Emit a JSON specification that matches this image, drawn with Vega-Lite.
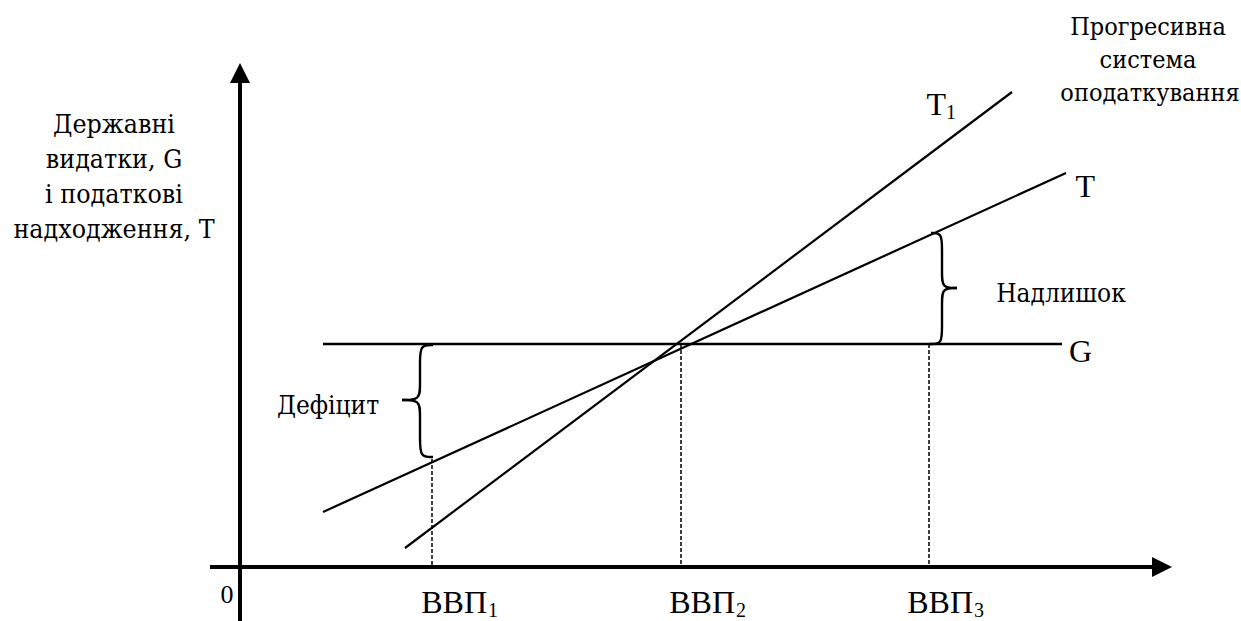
{
  "$schema": "https://vega.github.io/schema/vega-lite/v6.json",
  "width": 1241,
  "height": 621,
  "autosize": {"type": "none"},
  "padding": 0,
  "background": "white",
  "view": {"stroke": null},
  "config": {"text": {"font": "Liberation Serif, DejaVu Serif, serif", "color": "black"}},
  "datasets": {
    "axes": [
      {"name": "y-axis", "x": 240, "y": 621, "x2": 240, "y2": 80},
      {"name": "x-axis", "x": 210, "y": 567, "x2": 1155, "y2": 567}
    ],
    "curves": [
      {"name": "T1", "x": 405, "y": 548, "x2": 1012, "y2": 92},
      {"name": "T", "x": 323, "y": 512, "x2": 1066, "y2": 173}
    ],
    "level": [
      {"name": "G", "x": 323, "y": 344, "x2": 1062, "y2": 344}
    ],
    "guides": [
      {"name": "ВВП1", "x": 432, "y": 459, "x2": 432, "y2": 567},
      {"name": "ВВП2", "x": 681, "y": 344, "x2": 681, "y2": 567},
      {"name": "ВВП3", "x": 929, "y": 344, "x2": 929, "y2": 567}
    ],
    "arrowUp": [{"x": 240, "y": 73}],
    "arrowRight": [{"x": 1162, "y": 567}],
    "braces": [
      {"brace": "deficit-top", "o": 1, "x": 433, "y": 345},
      {"brace": "deficit-top", "o": 2, "x": 420, "y": 345},
      {"brace": "deficit-top", "o": 3, "x": 420, "y": 362},
      {"brace": "deficit-top", "o": 4, "x": 420, "y": 386},
      {"brace": "deficit-top", "o": 5, "x": 420, "y": 400},
      {"brace": "deficit-top", "o": 6, "x": 402, "y": 400},
      {"brace": "deficit-bottom", "o": 1, "x": 402, "y": 400},
      {"brace": "deficit-bottom", "o": 2, "x": 420, "y": 400},
      {"brace": "deficit-bottom", "o": 3, "x": 420, "y": 414},
      {"brace": "deficit-bottom", "o": 4, "x": 420, "y": 440},
      {"brace": "deficit-bottom", "o": 5, "x": 420, "y": 457},
      {"brace": "deficit-bottom", "o": 6, "x": 433, "y": 457},
      {"brace": "surplus-top", "o": 1, "x": 931, "y": 233},
      {"brace": "surplus-top", "o": 2, "x": 942, "y": 233},
      {"brace": "surplus-top", "o": 3, "x": 942, "y": 248},
      {"brace": "surplus-top", "o": 4, "x": 942, "y": 274},
      {"brace": "surplus-top", "o": 5, "x": 942, "y": 288},
      {"brace": "surplus-top", "o": 6, "x": 957, "y": 288},
      {"brace": "surplus-bottom", "o": 1, "x": 957, "y": 288},
      {"brace": "surplus-bottom", "o": 2, "x": 942, "y": 288},
      {"brace": "surplus-bottom", "o": 3, "x": 942, "y": 302},
      {"brace": "surplus-bottom", "o": 4, "x": 942, "y": 329},
      {"brace": "surplus-bottom", "o": 5, "x": 942, "y": 344},
      {"brace": "surplus-bottom", "o": 6, "x": 930, "y": 344}
    ],
    "titleLeft": [
      {"label": "Державні", "x": 114, "y": 133},
      {"label": "видатки, G", "x": 114, "y": 168},
      {"label": "і податкові", "x": 114, "y": 203},
      {"label": "надходження, Т", "x": 114, "y": 238}
    ],
    "titleRight": [
      {"label": "Прогресивна", "x": 1148, "y": 35},
      {"label": "система", "x": 1148, "y": 68},
      {"label": "оподаткування", "x": 1150, "y": 101}
    ],
    "gapLabels": [
      {"label": "Дефіцит", "x": 328, "y": 414},
      {"label": "Надлишок", "x": 1061, "y": 302}
    ],
    "zero": [{"label": "0", "x": 227, "y": 603}],
    "bigLabels": [
      {"label": "ВВП", "x": 487, "y": 613},
      {"label": "ВВП", "x": 735, "y": 613},
      {"label": "ВВП", "x": 973, "y": 613},
      {"label": "T", "x": 946, "y": 115},
      {"label": "T", "x": 1095, "y": 197},
      {"label": "G", "x": 1092, "y": 362}
    ],
    "subs": [
      {"label": "1", "x": 488, "y": 617},
      {"label": "2", "x": 736, "y": 617},
      {"label": "3", "x": 974, "y": 617},
      {"label": "1", "x": 946, "y": 119}
    ]
  },
  "encoding": {
    "x": {"field": "x", "type": "quantitative", "scale": {"domain": [0, 1241], "nice": false, "zero": false}, "axis": null},
    "y": {"field": "y", "type": "quantitative", "scale": {"domain": [0, 621], "nice": false, "zero": false, "reverse": true}, "axis": null}
  },
  "layer": [
    {
      "data": {"name": "axes"},
      "mark": {"type": "rule", "strokeWidth": 4, "color": "black"},
      "encoding": {"x2": {"field": "x2"}, "y2": {"field": "y2"}}
    },
    {
      "data": {"name": "curves"},
      "mark": {"type": "rule", "strokeWidth": 2.2, "color": "black"},
      "encoding": {"x2": {"field": "x2"}, "y2": {"field": "y2"}}
    },
    {
      "data": {"name": "level"},
      "mark": {"type": "rule", "strokeWidth": 2.6, "color": "black"},
      "encoding": {"x2": {"field": "x2"}, "y2": {"field": "y2"}}
    },
    {
      "data": {"name": "guides"},
      "mark": {"type": "rule", "strokeWidth": 1.5, "color": "black", "strokeDash": [4, 2]},
      "encoding": {"x2": {"field": "x2"}, "y2": {"field": "y2"}}
    },
    {
      "data": {"name": "arrowUp"},
      "mark": {"type": "point", "shape": "M0,-1L1,1L-1,1Z", "size": 400, "filled": true, "color": "black", "opacity": 1, "strokeWidth": 0}
    },
    {
      "data": {"name": "arrowRight"},
      "mark": {"type": "point", "shape": "M1,0L-1,-1L-1,1Z", "size": 400, "filled": true, "color": "black", "opacity": 1, "strokeWidth": 0}
    },
    {
      "data": {"name": "braces"},
      "mark": {"type": "line", "interpolate": "basis", "strokeWidth": 2.4, "color": "black"},
      "encoding": {"detail": {"field": "brace"}, "order": {"field": "o", "type": "quantitative"}}
    },
    {
      "data": {"name": "titleLeft"},
      "mark": {"type": "text", "font": "DejaVu Serif Condensed, DejaVu Serif", "fontSize": 26.5, "align": "center", "baseline": "alphabetic", "color": "black"},
      "encoding": {"text": {"field": "label"}}
    },
    {
      "data": {"name": "titleRight"},
      "mark": {"type": "text", "font": "DejaVu Serif Condensed, DejaVu Serif", "fontSize": 25, "align": "center", "baseline": "alphabetic", "color": "black"},
      "encoding": {"text": {"field": "label"}}
    },
    {
      "data": {"name": "gapLabels"},
      "mark": {"type": "text", "font": "DejaVu Serif Condensed, DejaVu Serif", "fontSize": 26, "align": "center", "baseline": "alphabetic", "color": "black"},
      "encoding": {"text": {"field": "label"}}
    },
    {
      "data": {"name": "zero"},
      "mark": {"type": "text", "font": "Liberation Serif", "fontSize": 26, "align": "center", "baseline": "alphabetic", "color": "black"},
      "encoding": {"text": {"field": "label"}}
    },
    {
      "data": {"name": "bigLabels"},
      "mark": {"type": "text", "font": "Liberation Serif, DejaVu Serif", "fontSize": 32, "align": "right", "baseline": "alphabetic", "color": "black"},
      "encoding": {"text": {"field": "label"}}
    },
    {
      "data": {"name": "subs"},
      "mark": {"type": "text", "font": "Liberation Serif", "fontSize": 20, "align": "left", "baseline": "alphabetic", "color": "black"},
      "encoding": {"text": {"field": "label"}}
    }
  ]
}
